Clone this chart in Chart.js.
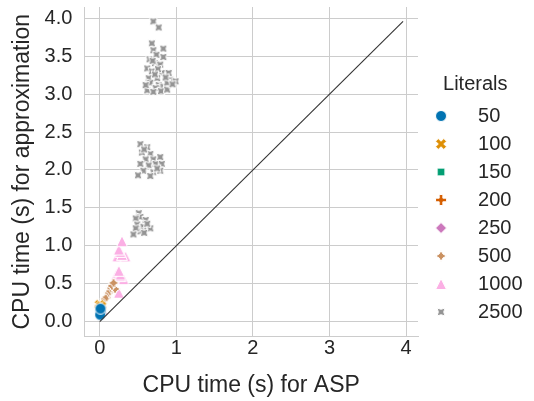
<!DOCTYPE html>
<html>
<head>
<meta charset="utf-8">
<script src="https://cdn.jsdelivr.net/npm/chart.js@4.4.1/dist/chart.umd.min.js"></script>
<style>
  html, body { margin: 0; padding: 0; background: #ffffff; }
  #wrap { width: 534px; height: 401px; }
</style>
</head>
<body>
<div id="wrap"><canvas id="c" width="534" height="401"></canvas></div>
<script>
// ---- data (x: CPU time for ASP, y: CPU time for approximation) ----
const literals = ['50', '100', '150', '200', '250', '500', '1000', '2500'];
const pts50 = [[0.012, 0.14], [0.006, 0.09], [0.01, 0.17]];
const pts100 = [[0.01, 0.18], [0.0, 0.22], [0.02, 0.2]];
const pts150 = [[0.01, 0.15], [0.02, 0.12]];
const pts200 = [[0.0, 0.20], [0.02, 0.18]];
const pts250 = [[0.01, 0.13], [0.035, 0.10]];
const pts500 = [[0.07, 0.30], [0.09, 0.32], [0.12, 0.38], [0.135, 0.40], [0.15, 0.44], [0.20, 0.43], [0.16, 0.47], [0.18, 0.51]];
const pts1000 = [[0.25, 0.38], [0.22, 0.62], [0.23, 0.56], [0.31, 0.56], [0.27, 0.60], [0.27, 0.62], [0.25, 0.67],
                 [0.23, 0.86], [0.335, 0.86], [0.29, 0.88], [0.27, 0.92], [0.25, 0.95], [0.29, 1.06]];
const pts2500 = [
  [0.51, 1.43], [0.53, 1.38], [0.47, 1.36], [0.60, 1.34], [0.49, 1.28], [0.57, 1.25], [0.66, 1.23], [0.53, 1.19],
  [0.47, 1.23], [0.62, 1.29], [0.44, 1.15], [0.58, 1.17],
  [0.53, 2.34], [0.62, 2.30], [0.55, 2.23], [0.66, 2.21], [0.60, 2.14], [0.70, 2.14], [0.79, 2.17], [0.53, 2.08],
  [0.64, 2.06], [0.73, 2.08], [0.81, 2.08], [0.57, 1.99], [0.70, 1.97], [0.79, 1.99], [0.50, 1.93], [0.66, 1.92],
  [0.58, 2.27], [0.75, 2.02],
  [0.70, 3.96], [0.77, 3.88], [0.68, 3.67], [0.70, 3.58], [0.83, 3.60], [0.83, 3.49], [0.65, 3.46], [0.72, 3.41],
  [0.79, 3.39], [0.62, 3.34], [0.68, 3.30], [0.81, 3.28], [0.90, 3.28], [0.64, 3.21], [0.75, 3.21], [0.92, 3.19],
  [0.99, 3.17], [0.66, 3.15], [0.77, 3.12], [0.83, 3.10], [0.73, 3.08], [0.88, 3.15], [0.62, 3.05], [0.70, 3.03],
  [0.80, 3.04], [0.88, 3.06], [0.74, 3.52], [0.69, 3.44], [0.76, 3.33], [0.86, 3.22], [0.95, 3.13], [0.60, 3.12],
  [0.72, 3.26]
];
const diagonal = [[0, 0], [3.96, 3.96]];
const xTicks = [0, 1, 2, 3, 4];
const yTicks = [0, 0.5, 1.0, 1.5, 2.0, 2.5, 3.0, 3.5, 4.0];

// ---- styling ----
const colors = ['#0173b2', '#de8f05', '#029e73', '#d55e00', '#cc78bc', '#ca9161', '#fbafe4', '#949494'];
const shapes = ['circle', 'xfilled', 'square', 'plusfilled', 'diamond', 'star4', 'triangle', 'star4rot'];
const seriesPts = [pts50, pts100, pts150, pts200, pts250, pts500, pts1000, pts2500];
const D = 11;
const TEXT = '#262626';
const FONT = 'Liberation Sans, Arial, sans-serif';

function shapePath(ctx, shape, cx, cy, d) {
  const h = d / 2;
  ctx.beginPath();
  const poly = (pts) => { pts.forEach((p, i) => { const X = cx + p[0] * d, Y = cy - p[1] * d; i ? ctx.lineTo(X, Y) : ctx.moveTo(X, Y); }); ctx.closePath(); };
  const star = (rotDeg) => {
    const pts = [];
    for (let i = 0; i < 8; i++) {
      const r = (i % 2 === 0) ? 0.5 : 0.25;
      const a = Math.PI / 2 + i * Math.PI / 4 + rotDeg * Math.PI / 180;
      pts.push([r * Math.cos(a), r * Math.sin(a)]);
    }
    poly(pts);
  };
  switch (shape) {
    case 'circle': ctx.arc(cx, cy, h, 0, Math.PI * 2); ctx.closePath(); break;
    case 'xfilled': poly([[-0.25, -0.5], [0, -0.25], [0.25, -0.5], [0.5, -0.25], [0.25, 0], [0.5, 0.25], [0.25, 0.5], [0, 0.25], [-0.25, 0.5], [-0.5, 0.25], [-0.25, 0], [-0.5, -0.25]]); break;
    case 'square': { const s = 0.5 / Math.SQRT2; poly([[-s, -s], [s, -s], [s, s], [-s, s]]); break; }
    case 'plusfilled': { const a = 1 / 6, b = 0.5; poly([[-a, -b], [a, -b], [a, -a], [b, -a], [b, a], [a, a], [a, b], [-a, b], [-a, a], [-b, a], [-b, -a], [-a, -a]]); break; }
    case 'diamond': poly([[0, 0.5], [0.5, 0], [0, -0.5], [-0.5, 0]]); break;
    case 'star4': star(0); break;
    case 'star4rot': star(45); break;
    case 'triangle': poly([[0, 0.5], [-0.5, -0.5], [0.5, -0.5]]); break;
  }
}

function makeMarker(shape, color, w, h, offX, d) {
  const c = document.createElement('canvas');
  c.width = w; c.height = h;
  const ctx = c.getContext('2d');
  shapePath(ctx, shape, w / 2 + offX, h / 2, d);
  ctx.fillStyle = color;
  ctx.fill();
  ctx.strokeStyle = '#ffffff';
  ctx.lineWidth = 1;
  ctx.stroke();
  return c;
}

const pointMarkers = shapes.map((s, i) => makeMarker(s, colors[i], 16, 16, 0, D));
const legendMarkers = shapes.map((s, i) => makeMarker(s, colors[i], 30, 16, -6, D));

const toXY = (arr) => arr.map(p => ({ x: p[0], y: p[1] }));

const datasets = literals.map((lab, i) => ({
  label: lab,
  data: toXY(seriesPts[i]),
  pointStyle: pointMarkers[i],
  backgroundColor: colors[i],
  borderColor: colors[i],
  pointRadius: 6,
  pointHoverRadius: 6
}));
datasets.push({
  label: 'diag',
  data: toXY(diagonal),
  showLine: true,
  borderColor: '#333333',
  borderWidth: 1.1,
  pointRadius: 0,
  pointHoverRadius: 0,
  fill: false,
  order: -1
});

new Chart(document.getElementById('c'), {
  type: 'scatter',
  data: { datasets },
  options: {
    responsive: false,
    animation: false,
    devicePixelRatio: 1,
    layout: { padding: { top: 3, right: 1.5, left: 0, bottom: 0 } },
    plugins: {
      tooltip: { enabled: false },
      legend: {
        position: 'right',
        align: 'center',
        title: { display: true, text: 'Literals', color: TEXT, font: { family: FONT, size: 20 } },
        labels: {
          usePointStyle: true,
          pointStyleWidth: 42,
          padding: 8,
          color: TEXT,
          font: { family: FONT, size: 20 },
          generateLabels: (chart) => {
            const items = Chart.defaults.plugins.legend.labels.generateLabels(chart);
            return items.filter(it => it.datasetIndex < literals.length).map(it => {
              it.pointStyle = legendMarkers[it.datasetIndex];
              return it;
            });
          }
        }
      }
    },
    scales: {
      x: {
        type: 'linear',
        min: -0.2,
        max: 4.155,
        afterBuildTicks: (axis) => { axis.ticks = xTicks.map(v => ({ value: v })); },
        ticks: { color: TEXT, font: { family: FONT, size: 20 }, padding: 0, callback: (v) => String(v) },
        grid: { color: '#cccccc', lineWidth: 1, drawTicks: false },
        border: { display: true, color: '#cccccc', width: 1 },
        title: { display: true, text: 'CPU time (s) for ASP', color: TEXT, font: { family: FONT, size: 23 }, padding: { top: 11, bottom: 2 } }
      },
      y: {
        type: 'linear',
        min: -0.196,
        max: 4.15,
        afterBuildTicks: (axis) => { axis.ticks = yTicks.map(v => ({ value: v })); },
        ticks: { color: TEXT, font: { family: FONT, size: 20, lineHeight: 0.3 }, padding: 0, callback: (v) => Number(v).toFixed(1) },
        grid: { color: '#cccccc', lineWidth: 1, drawTicks: true, tickLength: 12, tickColor: 'rgba(0,0,0,0)' },
        border: { display: true, color: '#cccccc', width: 1 },
        title: { display: true, text: 'CPU time (s) for approximation', color: TEXT, font: { family: FONT, size: 23 }, padding: { top: 9, bottom: 8 } }
      }
    }
  }
});
</script>
</body>
</html>
